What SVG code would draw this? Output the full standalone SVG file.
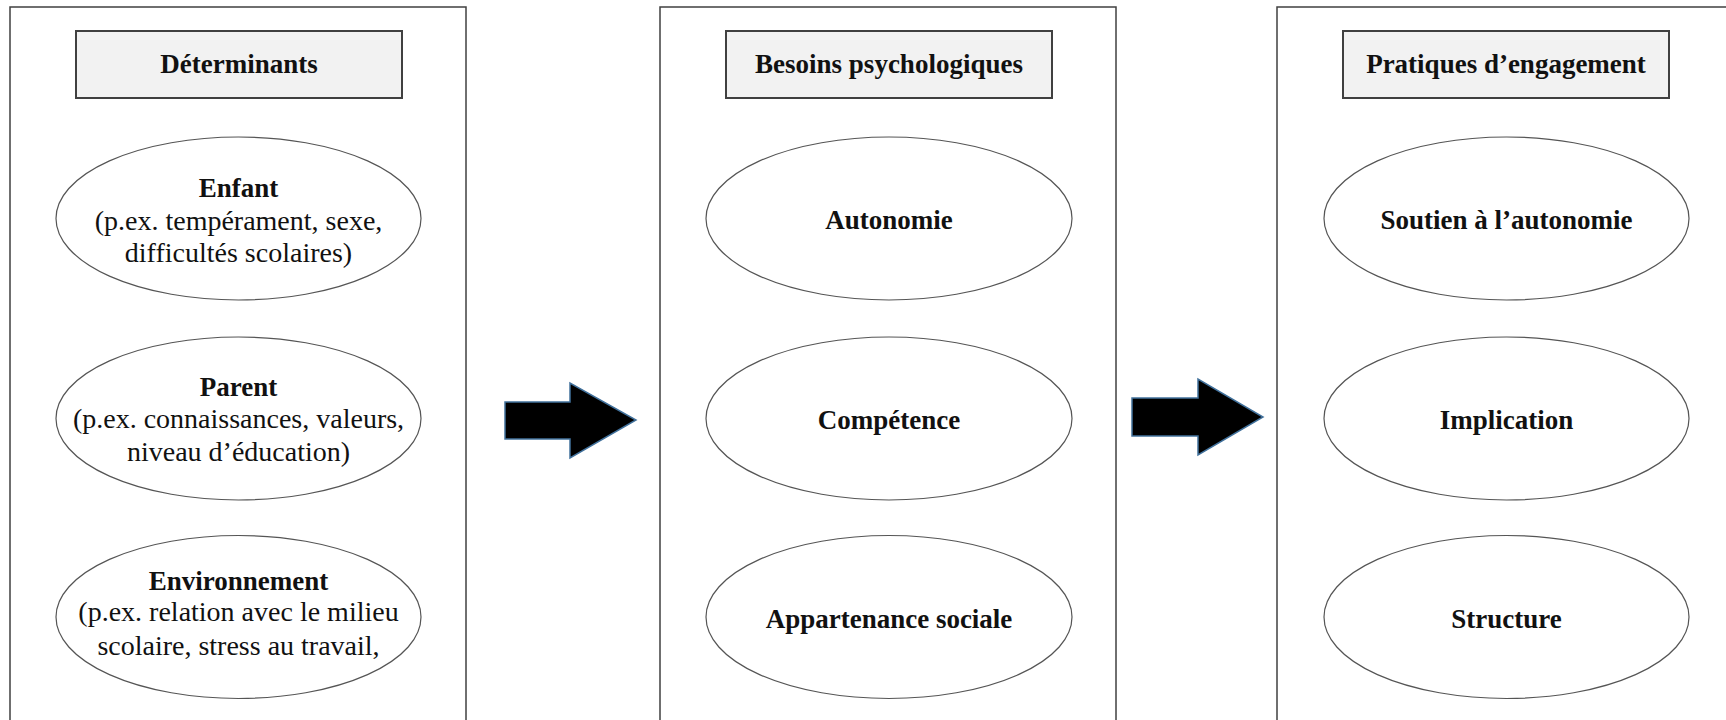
<svg xmlns="http://www.w3.org/2000/svg" width="1726" height="720" viewBox="0 0 1726 720">
<style>
.panel{fill:#fff;stroke:#404040;stroke-width:1.5}
.hdr{fill:#f2f2f2;stroke:#404040;stroke-width:2}
.ell{fill:#fff;stroke:#555;stroke-width:1.2}
.arrow{fill:#000;stroke:#41719c;stroke-width:1.5;stroke-linejoin:miter}
text{font-family:"Liberation Serif","Times New Roman",serif;fill:#111;text-anchor:middle}
.b{font-weight:bold;font-size:27px}
.r{font-size:28px}
</style>
<rect width="1726" height="720" fill="#fff"/>
<g id="panel-determinants">
<rect class="panel" x="10" y="7" width="456" height="730"/>
<rect class="hdr" x="76" y="31" width="326" height="67"/>
<text class="b" x="239" y="73">Déterminants</text>
</g>
<g id="node-enfant">
<ellipse class="ell" cx="238.5" cy="218.5" rx="182.5" ry="81.5"/>
<text class="b" x="238.5" y="197">Enfant</text>
<text class="r" x="238.5" y="230">(p.ex. tempérament, sexe,</text>
<text class="r" x="238.5" y="262">difficultés scolaires)</text>
</g>
<g id="node-parent">
<ellipse class="ell" cx="238.5" cy="418.5" rx="182.5" ry="81.5"/>
<text class="b" x="238.5" y="396">Parent</text>
<text class="r" x="238.5" y="428">(p.ex. connaissances, valeurs,</text>
<text class="r" x="238.5" y="461">niveau d’éducation)</text>
</g>
<g id="node-environnement">
<ellipse class="ell" cx="238.5" cy="617" rx="182.5" ry="81.5"/>
<text class="b" x="238.5" y="590">Environnement</text>
<text class="r" x="238.5" y="621">(p.ex. relation avec le milieu</text>
<text class="r" x="238.5" y="655">scolaire, stress au travail,</text>
</g>
<g id="panel-besoins">
<rect class="panel" x="660" y="7" width="456" height="730"/>
<rect class="hdr" x="726" y="31" width="326" height="67"/>
<text class="b" x="889" y="73">Besoins psychologiques</text>
</g>
<g id="node-autonomie">
<ellipse class="ell" cx="889" cy="218.5" rx="183" ry="81.5"/>
<text class="b" x="889" y="229">Autonomie</text>
</g>
<g id="node-competence">
<ellipse class="ell" cx="889" cy="418.5" rx="183" ry="81.5"/>
<text class="b" x="889" y="429">Compétence</text>
</g>
<g id="node-appartenance">
<ellipse class="ell" cx="889" cy="617" rx="183" ry="81.5"/>
<text class="b" x="889" y="628">Appartenance sociale</text>
</g>
<g id="panel-pratiques">
<rect class="panel" x="1277" y="7" width="460" height="730"/>
<rect class="hdr" x="1343" y="31" width="326" height="67"/>
<text class="b" x="1506" y="73">Pratiques d’engagement</text>
</g>
<g id="node-soutien">
<ellipse class="ell" cx="1506.5" cy="218.5" rx="182.5" ry="81.5"/>
<text class="b" x="1506.5" y="229">Soutien à l’autonomie</text>
</g>
<g id="node-implication">
<ellipse class="ell" cx="1506.5" cy="418.5" rx="182.5" ry="81.5"/>
<text class="b" x="1506.5" y="429">Implication</text>
</g>
<g id="node-structure">
<ellipse class="ell" cx="1506.5" cy="617" rx="182.5" ry="81.5"/>
<text class="b" x="1506.5" y="628">Structure</text>
</g>
<g id="connectors">
<polygon class="arrow" points="505,402 570,402 570,383 636,420 570,458 570,439 505,439"/>
<polygon class="arrow" points="1132,398 1198,398 1198,379 1263,417 1198,455 1198,436 1132,436"/>
</g>
</svg>
